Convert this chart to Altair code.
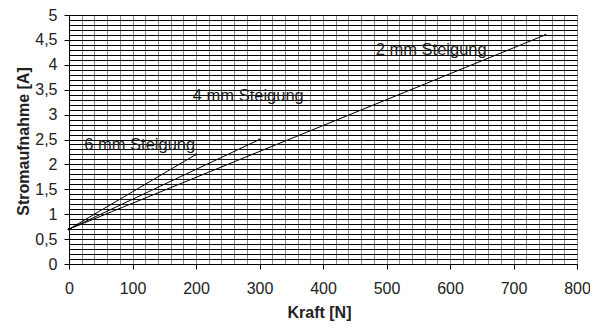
import altair as alt
import pandas as pd

# Series data (Kraft [N] -> Stromaufnahme [A])
series_names = ["2 mm Steigung", "4 mm Steigung", "6 mm Steigung"]
force_start = [0, 0, 0]
force_end = [750, 300, 200]
current_start = [0.7, 0.7, 0.7]
current_end = [4.6, 2.5, 2.2]

# annotation labels
label_text = ["2 mm Steigung", "4 mm Steigung", "6 mm Steigung"]
label_x = [483, 195, 24]
label_y = [4.30, 3.37, 2.39]

# axis grids/ticks
x_grid_values = list(range(0, 801, 20))
y_grid_values = [round(i * 0.1, 1) for i in range(51)]

rows = []
for n, xs, xe, ys, ye in zip(series_names, force_start, force_end, current_start, current_end):
    rows.append({"series": n, "Kraft": xs, "Strom": ys})
    rows.append({"series": n, "Kraft": xe, "Strom": ye})
df = pd.DataFrame(rows)
lab = pd.DataFrame({"text": label_text, "x": label_x, "y": label_y})

FONT = "Liberation Sans"

x_scale = alt.Scale(domain=[0, 800], nice=False)
y_scale = alt.Scale(domain=[0, 5], nice=False)

x_axis = alt.Axis(
    values=x_grid_values, tickCount=200,
    labelExpr="datum.value % 100 == 0 ? datum.label : ''",
    tickOpacity=alt.ExprRef("datum.value % 100 == 0 ? 1 : 0"),
    tickSize=5, tickColor="black",
    grid=True, gridColor="#8a8a8a", gridWidth=1, gridOpacity=1,
    domainColor="black",
    labelFont=FONT, labelFontSize=16, labelColor="#222", labelPadding=11,
    labelFlush=False, labelOverlap=False,
    title="Kraft [N]", titleFont=FONT, titleFontSize=16, titleFontWeight="bold",
    titleColor="#222", titleX=250, titleY=48, titleBaseline="middle", titleAnchor="middle",
)
y_axis = alt.Axis(
    values=y_grid_values, tickCount=200,
    labelExpr="abs(datum.value*2 - round(datum.value*2)) < 0.001 ? replace(toString(round(datum.value*10)/10), '.', ',') : ''",
    tickOpacity=alt.ExprRef("abs(datum.value*2 - round(datum.value*2)) < 0.001 ? 1 : 0"),
    tickSize=5, tickColor="black",
    grid=True, gridColor="black", gridWidth=1, gridOpacity=1,
    domainColor="black",
    labelFont=FONT, labelFontSize=16, labelColor="#222", labelPadding=7,
    labelFlush=False, labelOverlap=False,
    title="Stromaufnahme [A]", titleFont=FONT, titleFontSize=16, titleFontWeight="bold",
    titleColor="#222", titleX=-46, titleY=126, titleBaseline="middle", titleAnchor="middle",
)

lines = alt.Chart(df).mark_line(color="black", strokeWidth=1).encode(
    x=alt.X("Kraft:Q", scale=x_scale, axis=x_axis),
    y=alt.Y("Strom:Q", scale=y_scale, axis=y_axis),
    detail="series:N",
)
points = alt.Chart(df).mark_point(color="black", filled=True, size=6).encode(
    x=alt.X("Kraft:Q", scale=x_scale, axis=x_axis),
    y=alt.Y("Strom:Q", scale=y_scale, axis=y_axis),
)
texts = alt.Chart(lab).mark_text(
    align="left", baseline="middle", font=FONT, fontSize=16.5, color="#222"
).encode(
    x=alt.X("x:Q", scale=x_scale, axis=x_axis),
    y=alt.Y("y:Q", scale=y_scale, axis=y_axis),
    text="text:N",
)

chart = alt.layer(lines, points, texts).properties(
    width=508, height=249,
    autosize=alt.AutoSizeParams(type="none"),
    padding={"left": 61, "top": 7, "right": 13, "bottom": 57},
    background="white",
).configure_view(stroke="#8a8a8a", strokeWidth=1)

chart.save("out.html", embed_options={"renderer": "svg", "actions": False})
